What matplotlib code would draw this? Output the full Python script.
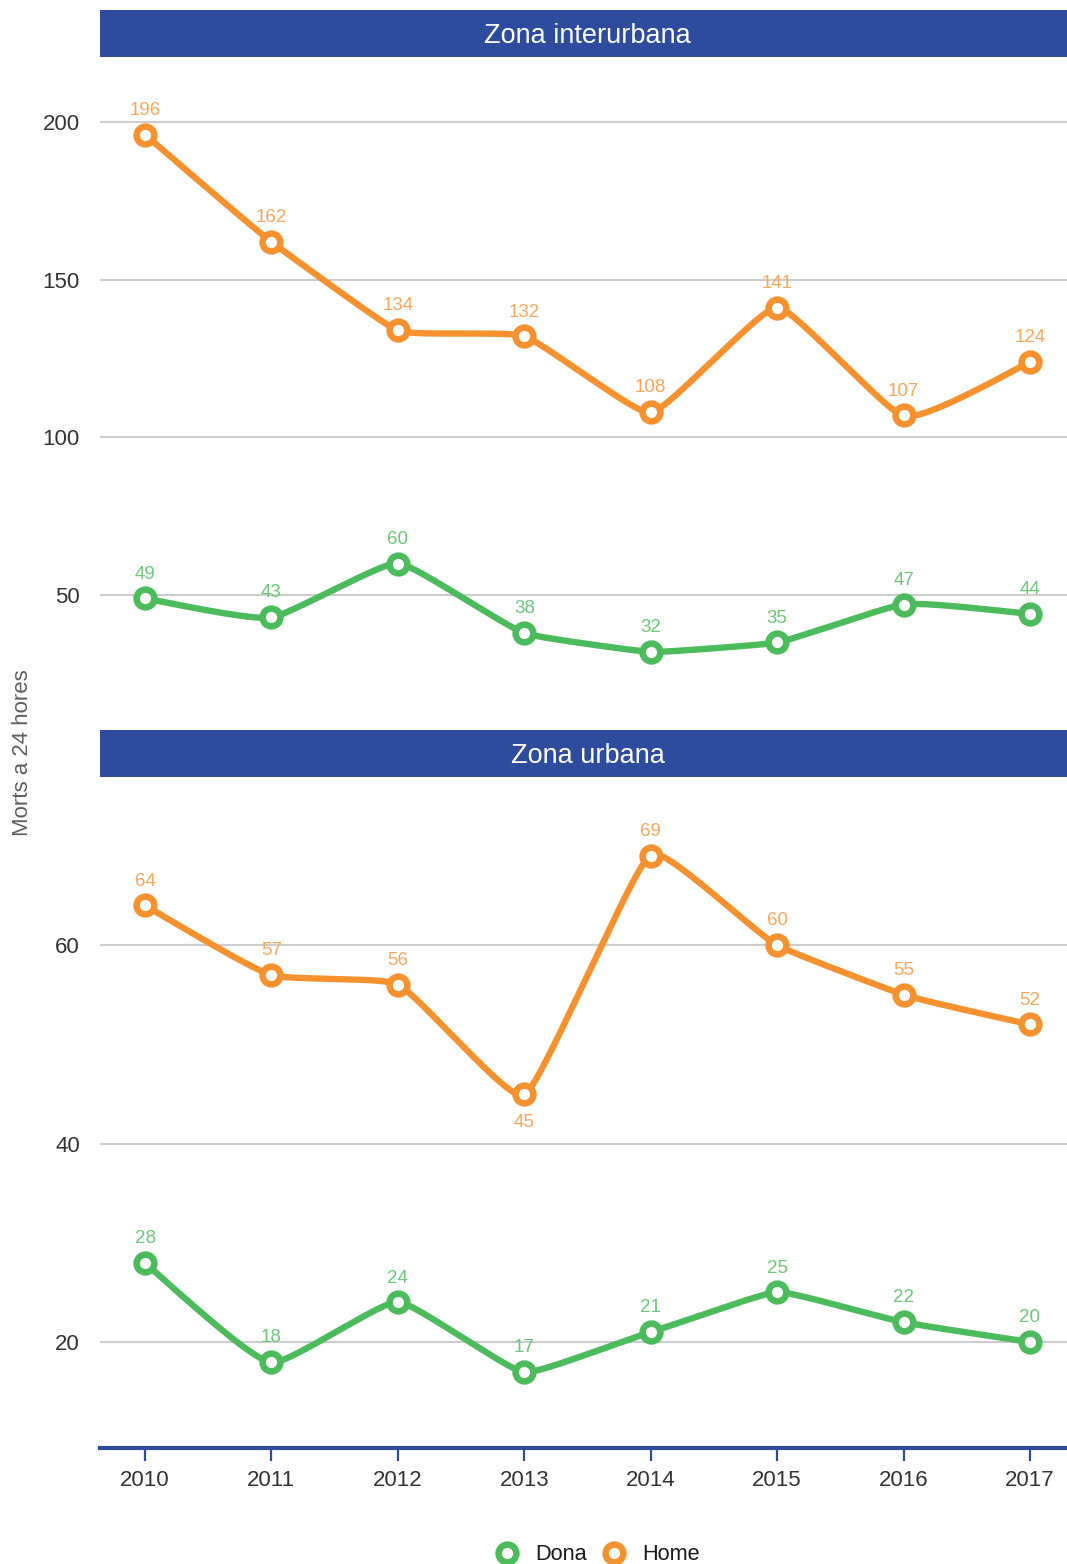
import numpy as np
import matplotlib
matplotlib.use("Agg")
import matplotlib.pyplot as plt
from matplotlib.lines import Line2D

plt.rcParams["font.family"] = ["Liberation Sans", "DejaVu Sans"]

# ---- data -------------------------------------------------------------
years = [2010, 2011, 2012, 2013, 2014, 2015, 2016, 2017]

interurbana_dona = [49, 43, 60, 38, 32, 35, 47, 44]
interurbana_home = [196, 162, 134, 132, 108, 141, 107, 124]
urbana_dona = [28, 18, 24, 17, 21, 25, 22, 20]
urbana_home = [64, 57, 56, 45, 69, 60, 55, 52]

zones = ["Zona interurbana", "Zona urbana"]
series_names = ["Dona", "Home"]
interurbana_ticks = [50, 100, 150, 200]
urbana_ticks = [20, 40, 60]
y_label = "Morts a 24 hores"

# ---- style ------------------------------------------------------------
W, H = 1067, 1564
C_DONA, C_HOME = "#4CBB5C", "#F5922F"
C_DONA_TXT, C_HOME_TXT = "#6CC779", "#F7A65D"
STRIP = "#2D4C9E"
GRID = "#CDCDCD"
TICK_TXT = "#333333"
MS, MEW = 12.8, 4.7
LW = 4.6


def xspline(xs, ys, shape=-0.35, steps=80):
    """Open X-spline (Blanc & Schlick) with repeated end points."""
    n = len(xs)
    pts = np.column_stack([xs, ys]).astype(float)
    s = np.array([0.0] + [shape] * (n - 2) + [0.0])

    def f_blend(num, den):
        p = 2 * den * den
        u = num / den
        return u ** 3 * (10 - p + (2 * p - 15) * u + (6 - p) * u * u)

    def g_blend(u, q):
        return u * (q + u * (2 * q + u * (10 - q + u * (2 * q - 15 + u * (6 - q)))))

    def h_blend(u, q):
        u2 = u * u
        return u * (q + u * (2 * q + u2 * (-2 * q - u * q)))

    def segment(i0, i1, i2, i3):
        s1, s2 = s[i1], s[i2]
        out = []
        for t in np.linspace(0.0, 1.0, steps, endpoint=False):
            if s1 < 0:
                a0, a2 = h_blend(-t, -s1), g_blend(t, -s1)
            else:
                a0 = f_blend(t - s1, -1 - s1) if t < s1 else 0.0
                a2 = f_blend(t + s1, 1 + s1)
            if s2 < 0:
                a1, a3 = g_blend(1 - t, -s2), h_blend(t - 1, -s2)
            else:
                a1 = f_blend(t - 1 - s2, -1 - s2)
                a3 = f_blend(t - 1 + s2, 1 + s2) if t > 1 - s2 else 0.0
            w = np.array([a0, a1, a2, a3])
            out.append(w @ pts[[i0, i1, i2, i3]] / w.sum())
        return out

    curve = []
    idx = [0] + list(range(n)) + [n - 1]
    for k in range(n - 1):
        curve += segment(idx[k], idx[k + 1], idx[k + 2], idx[k + 3])
    curve.append(pts[-1])
    curve = np.array(curve)
    return curve[:, 0], curve[:, 1]


fig = plt.figure(figsize=(W / 100, H / 100), dpi=100)


def px_axes(left, top, right, bottom):
    return fig.add_axes([left / W, 1 - bottom / H, (right - left) / W, (bottom - top) / H])


panels = [
    dict(title=zones[0], dona=interurbana_dona, home=interurbana_home,
         ticks=interurbana_ticks, strip=(10, 57), box=(57, 728), ylim=(7.85, 220.6)),
    dict(title=zones[1], dona=urbana_dona, home=urbana_home,
         ticks=urbana_ticks, strip=(730, 777), box=(777, 1448), ylim=(9.32, 76.93)),
]
below_labels = {(zones[1], "Home", 2013)}

XL, XR = 100, 1075
xlim = (2009.644, 2017.356)

for i, pnl in enumerate(panels):
    ax = px_axes(XL, pnl["box"][0], XR, pnl["box"][1])
    ax.set_xlim(*xlim)
    ax.set_ylim(*pnl["ylim"])
    ax.set_yticks(pnl["ticks"])
    ax.set_yticklabels([str(t) for t in pnl["ticks"]])
    ax.grid(axis="y", color=GRID, lw=1.5)
    ax.set_axisbelow(True)
    ax.tick_params(axis="y", length=0, pad=14.5, labelsize=16, labelcolor=TICK_TXT)
    for sp in ax.spines.values():
        sp.set_visible(False)

    for name, vals, col, tcol in [("Dona", pnl["dona"], C_DONA, C_DONA_TXT),
                                  ("Home", pnl["home"], C_HOME, C_HOME_TXT)]:
        sx, sy = xspline(years, vals)
        ax.plot(sx, sy, color=col, lw=LW, solid_capstyle="round", zorder=3)
        ax.plot(years, vals, ls="none", marker="o", ms=MS, mew=MEW,
                mec=col, mfc="white", zorder=4)
        for x, v in zip(years, vals):
            dy = -20.5 if (pnl["title"], name, x) in below_labels else 17.4
            ax.annotate(str(v), (x, v), xytext=(0, dy), textcoords="offset points",
                        ha="center", va="center", fontsize=13.5, color=tcol, zorder=5)

    if i == len(panels) - 1:
        ax.set_xticks(years)
        ax.set_xticklabels([str(y) for y in years])
        ax.spines["bottom"].set_visible(True)
        ax.spines["bottom"].set_color(STRIP)
        ax.spines["bottom"].set_linewidth(3)
        ax.tick_params(axis="x", length=9.5, width=1.6, color=STRIP, pad=6,
                       labelsize=16, labelcolor=TICK_TXT)
    else:
        ax.set_xticks([])

    # facet strip
    sax = px_axes(XL, pnl["strip"][0], XR, pnl["strip"][1])
    sax.set_facecolor(STRIP)
    sax.set_xticks([])
    sax.set_yticks([])
    for sp in sax.spines.values():
        sp.set_visible(False)
    sax.text(0.5, 0.44, pnl["title"], transform=sax.transAxes, ha="center",
             va="center", color="white", fontsize=19.5)

fig.text(23 / W, 1 - 753 / H, y_label, rotation=90, ha="center", va="center",
         fontsize=16, color="#5F5F5F")

handles = [Line2D([], [], ls="none", marker="o", ms=MS, mew=MEW, mec=c, mfc="white")
           for c in (C_DONA, C_HOME)]
fig.legend(handles, series_names, loc="center", bbox_to_anchor=(598 / W, 1 - 1555 / H),
           ncol=2, frameon=False, fontsize=15.7, handlelength=1.0, handletextpad=0.78,
           columnspacing=0.75, labelcolor="#1A1A1A")

fig.savefig("out.png", dpi=100)
